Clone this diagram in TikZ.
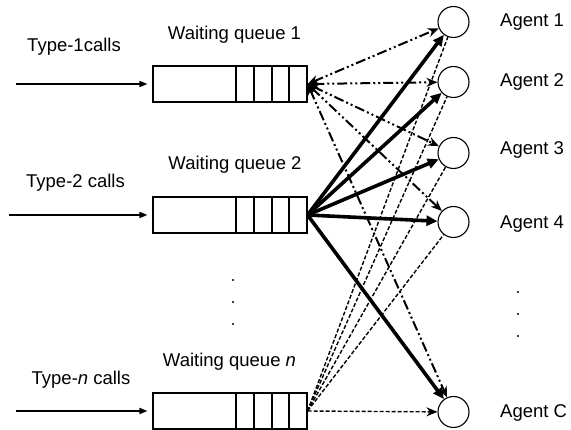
\documentclass[tikz,border=0pt]{standalone}
\usepackage{fontspec}
\setmainfont{Liberation Sans}
\usetikzlibrary{arrows.meta}
\begin{document}
\begin{tikzpicture}[x=1pt,y=-1pt,
  lbl/.style={font=\fontsize{18.5}{22}\selectfont, inner sep=0pt},
  qbox/.style={draw, line width=1.1pt, minimum width=154pt, minimum height=36pt, inner sep=0pt},
  agent/.style={draw, circle, line width=1.1pt, minimum size=31pt, inner sep=0pt},
  inarrow/.style={line width=1.6pt, -{Triangle[length=8pt,width=6pt]}, shorten >=5pt},
  thickarr/.style={line width=3.6pt, -{Triangle[length=11pt,width=10pt]}},
  ddarr/.style={line width=2pt, dash pattern=on 10pt off 3pt on 2pt off 3pt on 2pt off 3pt, {Stealth[length=11pt,width=9pt]}-{Stealth[length=11pt,width=9pt]}},
  dasharr/.style={line width=1.4pt, dash pattern=on 4pt off 2pt},
  dotm/.style={circle, fill, inner sep=0pt, minimum size=2.2pt}
]
\useasboundingbox (0,0) rectangle (571,430);
% queues
\node[qbox] (q1) at (230,84) {};
\node[qbox] (q2) at (230,215) {};
\node[qbox] (qn) at (230,411) {};
\foreach \yc in {84,215,411}{
  \foreach \xc in {236,254,272,289}{
    \draw[line width=1.1pt] (\xc,\yc-18) -- (\xc,\yc+18);
  }
}
% labels
\node[lbl] (t1) at (74,47) {Type-1calls};
\node[lbl] (t2) at (75.5,183) {Type-2 calls};
\node[lbl] (tn) at (81,380) {Type-\textit{n} calls};
\node[lbl] (w1) at (234.5,35) {Waiting queue 1};
\node[lbl] (w2) at (235,165) {Waiting queue 2};
\node[lbl] (wn) at (229.5,362) {Waiting queue \textit{n}};
% input arrows
\coordinate (s1) at (16,84);
\coordinate (s2) at (9,215);
\coordinate (sn) at (16,411);
\draw[inarrow] (s1) -- (q1.west);
\draw[inarrow] (s2) -- (q2.west);
\draw[inarrow] (sn) -- (qn.west);
% agents
\node[agent] (a1) at (453.5,22) {};
\node[agent] (a2) at (453.5,82) {};
\node[agent] (a3) at (453.5,153) {};
\node[agent] (a4) at (453.5,222) {};
\node[agent] (ac) at (453.5,412) {};
\node[lbl, anchor=west] (l1) at (500,22) {Agent 1};
\node[lbl, anchor=west] (l2) at (500,82) {Agent 2};
\node[lbl, anchor=west] (l3) at (500,150) {Agent 3};
\node[lbl, anchor=west] (l4) at (500,224) {Agent 4};
\node[lbl, anchor=west] (lc) at (500,413) {Agent C};
% vertical dots
\node[dotm] (d1) at (233,280) {};
\node[dotm] (d2) at (233,302) {};
\node[dotm] (d3) at (233,324) {};
\node[dotm] (e1) at (518,292) {};
\node[dotm] (e2) at (518,314) {};
\node[dotm] (e3) at (518,336) {};
% queue n dashed lines
\draw[dasharr] (qn.east) -- (a1);
\draw[dasharr] (qn.east) -- (a2);
\draw[dasharr] (qn.east) -- (a3);
\draw[dasharr] (qn.east) -- (a4);
\draw[dasharr, -{Stealth[length=11pt,width=9pt]}] (qn.east) -- (ac);
% queue 1 dash-dot lines
\draw[ddarr] (q1.east) -- (a1);
\draw[ddarr] (q1.east) -- (a2);
\draw[ddarr] (q1.east) -- (a3);
\draw[ddarr] (q1.east) -- (a4);
\draw[ddarr] (q1.east) -- (ac);
% queue 2 thick lines
\draw[thickarr] (q2.east) -- (a1);
\draw[thickarr] (q2.east) -- (a2);
\draw[thickarr] (q2.east) -- (a3);
\draw[thickarr] (q2.east) -- (a4);
\draw[thickarr] (q2.east) -- (ac);
\end{tikzpicture}
\end{document}
